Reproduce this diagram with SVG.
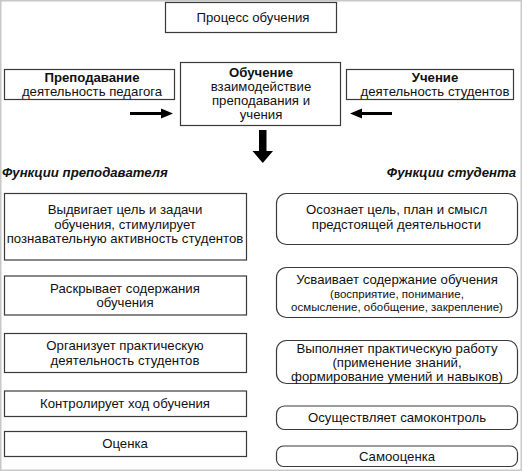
<svg xmlns="http://www.w3.org/2000/svg" width="522" height="471" viewBox="0 0 522 471">
<style>
.b{fill:#fff;stroke:#3a3a3a;stroke-width:1.2}
.t{font-family:"Liberation Sans",Arial,sans-serif;font-size:13.2px;fill:#111;text-anchor:middle}
.s{font-size:11.5px}
.bd{font-weight:bold}
.h{font-family:"Liberation Sans",Arial,sans-serif;font-size:13.2px;font-weight:bold;font-style:italic;fill:#111}
</style>
<rect x="0.75" y="0.75" width="520.5" height="469.5" fill="#fff" stroke="#c8c8c8" stroke-width="1.5"/>
<g id="process">
<rect class="b" x="165.5" y="2.5" width="171" height="30"/>
<text class="t" x="253" y="22">Процесс обучения</text>
</g>
<g id="teaching">
<rect class="b" x="4.5" y="69.5" width="170" height="30"/>
<text class="t bd" x="92" y="82">Преподавание</text>
<text class="t" x="92" y="96">деятельность педагога</text>
</g>
<g id="learning-center">
<rect class="b" x="180.5" y="62.5" width="160" height="63"/>
<text class="t bd" x="261" y="77">Обучение</text>
<text class="t" x="261" y="91">взаимодействие</text>
<text class="t" x="261" y="105">преподавания и</text>
<text class="t" x="261" y="119">учения</text>
</g>
<g id="study">
<rect class="b" x="346.5" y="69.5" width="167" height="30"/>
<text class="t bd" x="435" y="82">Учение</text>
<text class="t" x="435" y="96">деятельность студентов</text>
</g>
<g id="connectors">
<path d="M130 113.5 H162" stroke="#000" stroke-width="3" fill="none"/>
<polygon points="173,113.5 161,108.5 161,118.5" fill="#000"/>
<path d="M392 113.5 H360" stroke="#000" stroke-width="3" fill="none"/>
<polygon points="350,113.5 362,108.5 362,118.5" fill="#000"/>
<rect x="259" y="130" width="7.5" height="22" fill="#000"/>
<polygon points="252.5,151 273,151 262.75,163" fill="#000"/>
</g>
<g id="headers">
<text class="h" x="2" y="177">Функции преподавателя</text>
<text class="h" x="516" y="177" text-anchor="end">Функции студента</text>
</g>
<g id="t1">
<rect class="b" x="4.5" y="193.5" width="242" height="66.5"/>
<text class="t" x="125" y="214">Выдвигает цель и задачи</text>
<text class="t" x="125" y="228.5">обучения, стимулирует</text>
<text class="t" x="125" y="243">познавательную активность студентов</text>
</g>
<g id="t2">
<rect class="b" x="4.5" y="276" width="242" height="39"/>
<text class="t" x="125" y="293">Раскрывает содержания</text>
<text class="t" x="125" y="307">обучения</text>
</g>
<g id="t3">
<rect class="b" x="4.5" y="333.5" width="242" height="39"/>
<text class="t" x="125" y="350">Организует практическую</text>
<text class="t" x="125" y="364.5">деятельность студентов</text>
</g>
<g id="t4">
<rect class="b" x="4.5" y="391" width="242" height="25.5"/>
<text class="t" x="125" y="408">Контролирует ход обучения</text>
</g>
<g id="t5">
<rect class="b" x="4.5" y="431.5" width="242" height="25"/>
<text class="t" x="125" y="448">Оценка</text>
</g>
<g id="s1">
<rect class="b" x="276.5" y="193.5" width="241" height="51" rx="10"/>
<text class="t" x="396.5" y="214">Осознает цель, план и смысл</text>
<text class="t" x="396.5" y="228.5">предстоящей деятельности</text>
</g>
<g id="s2">
<rect class="b" x="276.5" y="267.5" width="241" height="50" rx="10"/>
<text class="t" x="397" y="284">Усваивает содержание обучения</text>
<text class="t s" x="397" y="298">(восприятие, понимание,</text>
<text class="t s" x="397" y="310.5">осмысление, обобщение, закрепление)</text>
</g>
<g id="s3">
<rect class="b" x="276.5" y="340.5" width="241" height="43" rx="10"/>
<text class="t" x="397" y="352.5">Выполняет практическую работу</text>
<text class="t" x="397" y="366.5">(применение знаний,</text>
<text class="t" x="397" y="381">формирование умений и навыков)</text>
</g>
<g id="s4">
<rect class="b" x="276.5" y="406" width="241" height="23.5" rx="8"/>
<text class="t" x="397" y="421.5">Осуществляет самоконтроль</text>
</g>
<g id="s5">
<rect class="b" x="276.5" y="446" width="241" height="20.5" rx="7"/>
<text class="t" x="397" y="460.5">Самооценка</text>
</g>
</svg>
